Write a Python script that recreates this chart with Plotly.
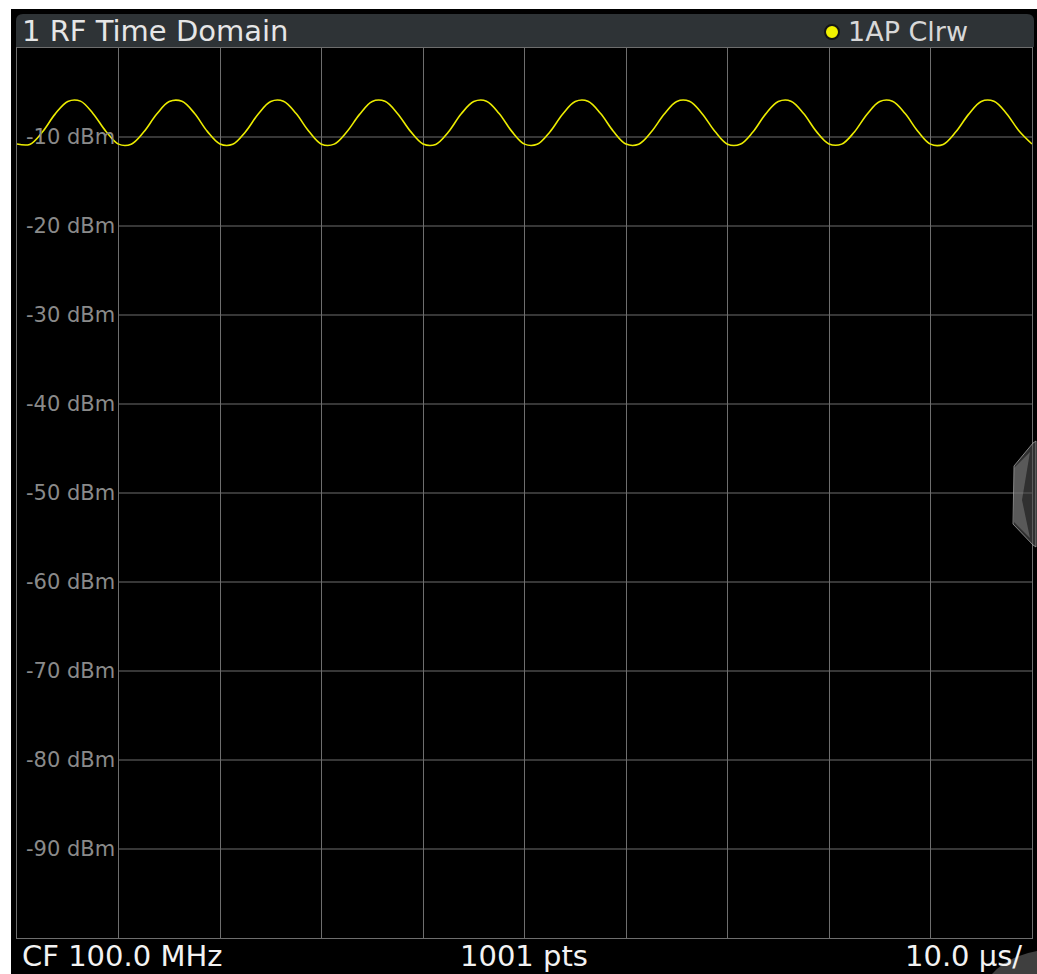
import plotly.graph_objects as go

# Sweep time axis (µs) and measured RF power (dBm), 1.25 µs sample spacing
t_us = [
    0.0, 1.25, 2.5, 3.75, 5.0, 6.25, 7.5, 8.75,
    10.0, 11.25, 12.5, 13.75, 15.0, 16.25, 17.5, 18.75,
    20.0, 21.25, 22.5, 23.75, 25.0, 26.25, 27.5, 28.75,
    30.0, 31.25, 32.5, 33.75, 35.0, 36.25, 37.5, 38.75,
    40.0, 41.25, 42.5, 43.75, 45.0, 46.25, 47.5, 48.75,
    50.0, 51.25, 52.5, 53.75, 55.0, 56.25, 57.5, 58.75,
    60.0, 61.25, 62.5, 63.75, 65.0, 66.25, 67.5, 68.75,
    70.0, 71.25, 72.5, 73.75, 75.0, 76.25, 77.5, 78.75,
    80.0, 81.25, 82.5, 83.75, 85.0, 86.25, 87.5, 88.75,
    90.0, 91.25, 92.5, 93.75, 95.0, 96.25, 97.5, 98.75,
    100.0,
]
power_dbm = [
    -10.78, -10.83, -9.44, -7.43, -6.00, -5.97, -7.38, -9.35,
    -10.80, -10.81, -9.42, -7.45, -6.02, -5.99, -7.36, -9.37,
    -10.79, -10.82, -9.43, -7.44, -6.01, -5.98, -7.37, -9.36,
    -10.81, -10.80, -9.41, -7.46, -6.00, -5.99, -7.38, -9.34,
    -10.78, -10.83, -9.44, -7.42, -6.02, -5.97, -7.36, -9.37,
    -10.80, -10.82, -9.43, -7.44, -6.01, -5.98, -7.37, -9.35,
    -10.79, -10.81, -9.42, -7.45, -6.00, -5.99, -7.38, -9.36,
    -10.81, -10.82, -9.44, -7.43, -6.02, -5.97, -7.36, -9.37,
    -10.78, -10.80, -9.43, -7.44, -6.01, -5.98, -7.37, -9.35,
    -10.80, -10.83, -9.42, -7.46, -6.00, -5.99, -7.38, -9.36,
    -10.79,
]

level_ticks = [-10, -20, -30, -40, -50, -60, -70, -80, -90]
level_labels = ["-10 dBm", "-20 dBm", "-30 dBm", "-40 dBm", "-50 dBm",
                "-60 dBm", "-70 dBm", "-80 dBm", "-90 dBm"]

title_text = "1 RF Time Domain"
trace_tag = "1AP Clrw"
footer_left = "CF 100.0 MHz"
footer_mid = "1001 pts"
footer_right = "10.0 µs/"

W, H = 1037, 974
L, R, T, B = 17, 5, 48, 36
PW, PH = W - L - R, H - T - B

FONT = "DejaVu Sans"
GRID = "#6e6e6e"
YELLOW = "#ecec00"


def xp(px):
    return (px - L) / PW


def yp(py):
    return (H - B - py) / PH


fig = go.Figure()
fig.add_trace(go.Scatter(
    x=t_us, y=power_dbm, mode="lines",
    line=dict(color=YELLOW, width=1.6, shape="spline", smoothing=1.0),
    hoverinfo="skip", showlegend=False,
))

shapes = []
# white surround (top and left strips)
shapes.append(dict(type="rect", xref="paper", yref="paper", x0=xp(-5), x1=xp(11),
                   y0=yp(H + 5), y1=yp(-5), fillcolor="white", line=dict(width=0), layer="above"))
shapes.append(dict(type="rect", xref="paper", yref="paper", x0=xp(-5), x1=xp(W + 5),
                   y0=yp(9), y1=yp(-5), fillcolor="white", line=dict(width=0), layer="above"))
# header bar with rounded top corners
hdr = (f"M {xp(16)},{yp(47)} L {xp(16)},{yp(21)} Q {xp(16)},{yp(14)} {xp(23)},{yp(14)} "
       f"L {xp(1027)},{yp(14)} Q {xp(1034)},{yp(14)} {xp(1034)},{yp(21)} L {xp(1034)},{yp(47)} Z")
shapes.append(dict(type="path", xref="paper", yref="paper", path=hdr,
                   fillcolor="#2e3336", line=dict(width=0), layer="above"))
# horizontal level lines (first division left free for the labels)
for lv in level_ticks:
    shapes.append(dict(type="line", xref="x", yref="y", x0=10, x1=100, y0=lv, y1=lv,
                       line=dict(color=GRID, width=1), layer="below"))
# side scroll handle
handle = (f"M {xp(1036)},{yp(441)} L {xp(1033)},{yp(443)} L {xp(1014)},{yp(466)} "
          f"L {xp(1013)},{yp(524)} L {xp(1033)},{yp(545)} L {xp(1036)},{yp(547)} Z")
shapes.append(dict(type="path", xref="paper", yref="paper", path=handle,
                   fillcolor="rgba(80,80,80,0.6)", line=dict(color="rgba(170,170,170,0.75)", width=1),
                   layer="above"))
handle_hi = (f"M {xp(1014)},{yp(468)} L {xp(1030)},{yp(452)} L {xp(1022)},{yp(500)} "
             f"L {xp(1030)},{yp(538)} L {xp(1014)},{yp(522)} Z")
shapes.append(dict(type="path", xref="paper", yref="paper", path=handle_hi,
                   fillcolor="rgba(140,140,140,0.45)", line=dict(width=0), layer="above"))
corner = (f"M {xp(992)},{yp(974)} Q {xp(1008)},{yp(956)} {xp(1037)},{yp(951)} "
          f"L {xp(1037)},{yp(974)} Z")
shapes.append(dict(type="path", xref="paper", yref="paper", path=corner,
                   fillcolor="rgba(105,105,105,0.6)", line=dict(width=0), layer="above"))
# trace indicator dot
shapes.append(dict(type="circle", xref="paper", yref="paper",
                   x0=xp(825), x1=xp(839), y0=yp(39), y1=yp(25),
                   fillcolor="#f2f200", line=dict(color="#151515", width=2), layer="above"))

annotations = []
for lv, lab in zip(level_ticks, level_labels):
    annotations.append(dict(x=10, y=lv, xref="x", yref="y", text=lab, showarrow=False,
                            xanchor="right", yanchor="middle", xshift=-2,
                            font=dict(family=FONT, size=21, color="#8a8a8a")))
annotations.append(dict(x=xp(20), y=yp(31), xref="paper", yref="paper", text=title_text,
                        showarrow=False, xanchor="left", yanchor="middle",
                        font=dict(family=FONT, size=29, color="#e6e6e6")))
annotations.append(dict(x=xp(846), y=yp(32), xref="paper", yref="paper", text=trace_tag,
                        showarrow=False, xanchor="left", yanchor="middle",
                        font=dict(family=FONT, size=27, color="#d8d8d8")))
annotations.append(dict(x=xp(20), y=yp(956), xref="paper", yref="paper", text=footer_left,
                        showarrow=False, xanchor="left", yanchor="middle",
                        font=dict(family=FONT, size=29, color="#f2f2f2")))
annotations.append(dict(x=xp(524), y=yp(956), xref="paper", yref="paper", text=footer_mid,
                        showarrow=False, xanchor="center", yanchor="middle",
                        font=dict(family=FONT, size=29, color="#f2f2f2")))
annotations.append(dict(x=xp(1024), y=yp(956), xref="paper", yref="paper", text=footer_right,
                        showarrow=False, xanchor="right", yanchor="middle",
                        font=dict(family=FONT, size=29, color="#f2f2f2")))

fig.update_layout(
    width=W, height=H,
    margin=dict(l=L, r=R, t=T, b=B, pad=0),
    paper_bgcolor="black", plot_bgcolor="black",
    shapes=shapes, annotations=annotations,
    showlegend=False,
    xaxis=dict(range=[0, 100], dtick=10, tick0=0, showgrid=True, gridcolor=GRID, gridwidth=1,
               showticklabels=False, ticks="", zeroline=False,
               showline=True, mirror=True, linecolor=GRID, linewidth=1, fixedrange=True),
    yaxis=dict(range=[-100, 0], showgrid=False, showticklabels=False, ticks="", zeroline=False,
               showline=True, mirror=True, linecolor=GRID, linewidth=1, fixedrange=True),
)

fig.write_html("out.html")
